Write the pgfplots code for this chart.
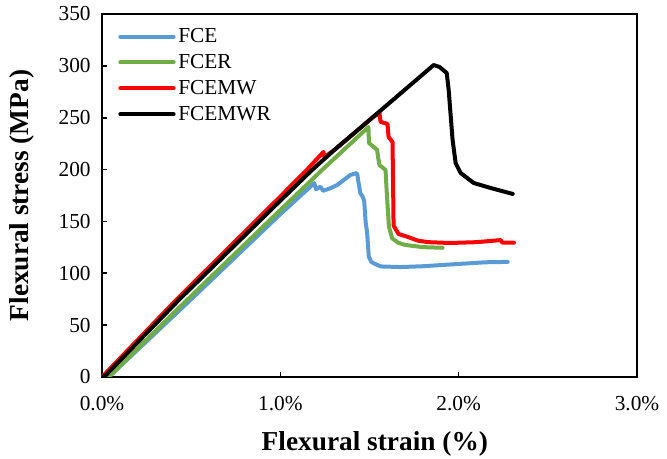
\documentclass[border=0pt]{standalone}
\usepackage{pgfplots}
\pgfplotsset{compat=1.18}
\usepackage{fontspec}
\setmainfont{Liberation Serif}
\definecolor{cBlue}{RGB}{91,155,213}
\definecolor{cGreen}{RGB}{112,173,71}
\definecolor{cRed}{RGB}{255,0,0}
\begin{document}
\begin{tikzpicture}
\begin{axis}[
  scale only axis,
  width=401.25pt, height=272.25pt,
  xmin=0, xmax=3, ymin=0, ymax=350,
  xtick={0,1,2,3}, ytick={0,50,...,350},
  xtick pos=bottom, ytick pos=left,
  tick align=inside, major tick length=4pt,
  axis line style={line width=1.2pt},
  every tick/.style={line width=1.2pt, black},
  /pgf/number format/assume math mode=true,
  xticklabel={\pgfmathprintnumber[fixed,fixed zerofill,precision=1]{\tick}\%},
  ticklabel style={font=\fontsize{16}{19}\selectfont},
  xticklabel style={yshift=-11pt},
  yticklabel style={xshift=-5pt},
  xlabel={\textbf{Flexural strain (\%)}},
  ylabel={\textbf{Flexural stress (MPa)}},
  label style={font=\fontsize{20.5}{24}\selectfont},
  xlabel style={at={(axis description cs:0.51,-0.185)}, anchor=center},
  ylabel style={at={(axis description cs:-0.15,0.5)}, anchor=center},
  legend style={at={(axis description cs:0.03,0.968)}, anchor=north west, draw=none, fill=none,
    font=\fontsize{16}{19}\selectfont, row sep=3.3pt, inner sep=0pt,
    nodes={inner sep=2pt}},
  legend cell align=left,
  legend image code/.code={\draw[#1] (0pt,0pt) -- (40pt,0pt);},
  every axis plot/.append style={line width=3pt, line join=round, line cap=round},
]
\addplot[cBlue] coordinates {
(0,0) (0.05,2) (0.476,71) (1.0,157) (1.178,185) (1.19,187) (1.20,181) (1.225,183.5) (1.24,179.5)
(1.28,182) (1.318,185) (1.393,194.8) (1.427,196.6) (1.432,195) (1.437,189) (1.449,177) (1.46,174.5)
(1.47,170) (1.478,150) (1.487,138.5) (1.496,116) (1.51,111) (1.524,109.6) (1.562,106.6)
(1.674,106) (1.8,106.8) (2.0,109) (2.15,110.6) (2.275,111)
};
\addlegendentry{FCE}
\addplot[cGreen] coordinates {
(0,0) (0.05,2) (0.438,67.8) (1.0,161) (1.234,199.6) (1.494,241) (1.497,225.6) (1.543,219) (1.548,212)
(1.556,204.4) (1.59,199.6) (1.596,180) (1.609,145) (1.627,133.7) (1.66,129.5) (1.70,127.3)
(1.80,125.2) (1.91,124.6)
};
\addlegendentry{FCER}
\addplot[cRed] coordinates {
(0,0) (0.42,75) (1.0,174) (1.15,200) (1.242,217) (1.247,212) (1.30,218.5) (1.42,236) (1.52,250.5)
(1.556,254.6) (1.562,246) (1.601,244) (1.607,231.4) (1.629,226.6) (1.632,190) (1.635,146)
(1.663,137.9) (1.719,134.8) (1.77,131.5) (1.83,130) (1.95,129.2) (2.1,130) (2.236,132)
(2.245,129.5) (2.275,129.5) (2.31,129.5)
};
\addlegendentry{FCEMW}
\addplot[black] coordinates {
(0,0) (0.02,1.5) (0.438,75.5) (1.0,170) (1.178,199.6) (1.30,218.5) (1.42,236) (1.627,266.5)
(1.86,300.8) (1.893,298.9) (1.933,293.1) (1.944,276.7) (1.966,228.5) (1.983,206.3)
(2.011,196.7) (2.084,187.1) (2.18,182.2) (2.303,176.5)
};
\addlegendentry{FCEMWR}
\end{axis}
\pgfresetboundingbox
\path ([xshift=-76.5pt,yshift=-61.5pt]current axis.south west) rectangle ([xshift=22.5pt,yshift=10.5pt]current axis.north east);
\end{tikzpicture}
\end{document}
